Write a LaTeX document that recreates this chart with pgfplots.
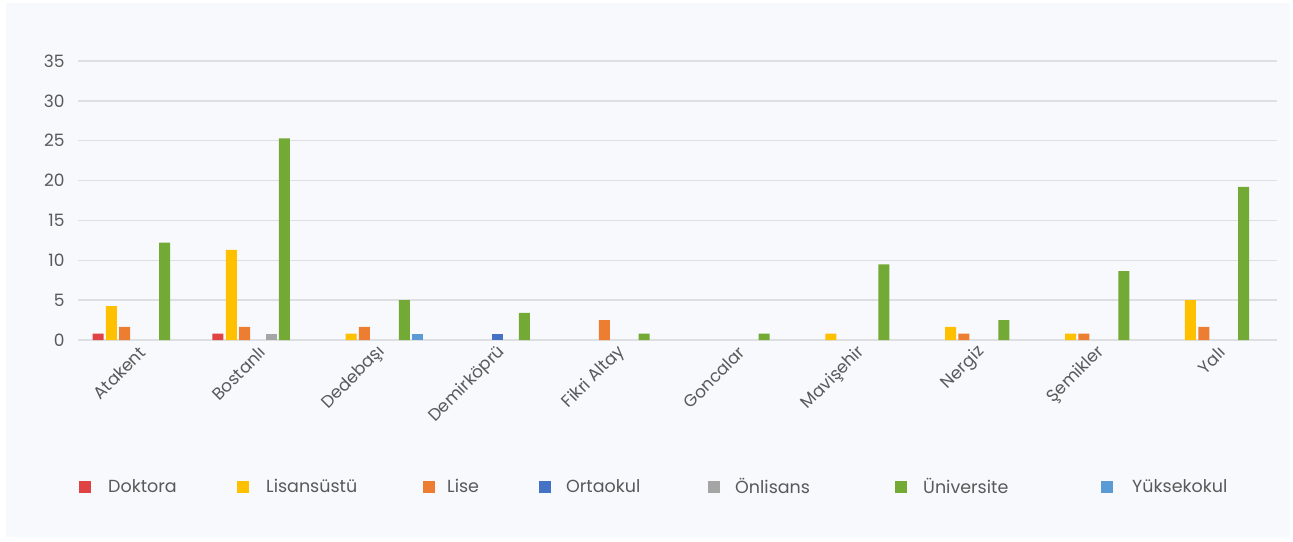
\documentclass[border=0pt]{standalone}
\usepackage{pgfplots}
\pgfplotsset{compat=1.18}
\usepackage{fontspec}
\setmainfont{Poppins}
\definecolor{bgc}{HTML}{F8F9FD}
\definecolor{gridc}{HTML}{DEDFE2}
\definecolor{txt}{HTML}{595959}
\definecolor{cDok}{HTML}{E04343}
\definecolor{cLis}{HTML}{FFC000}
\definecolor{cLise}{HTML}{ED7D31}
\definecolor{cOrt}{HTML}{4472C4}
\definecolor{cOnl}{HTML}{A5A5A5}
\definecolor{cUni}{HTML}{73A935}
\definecolor{cYuk}{HTML}{5B9BD5}
\newcommand{\legtxt}[3]{\makebox[#1pt][l]{\hspace{#2pt}#3}}
\begin{document}
\begin{tikzpicture}[x=1pt,y=1pt]
\path[use as bounding box, fill=white] (0,0) rectangle (1293,541);
\fill[bgc] (6,4) rectangle (1290,538);
\begin{axis}[
  at={(78pt,201pt)}, anchor=south west,
  scale only axis, width=1199pt, height=279pt,
  ybar=2.3pt, bar width=11pt,
  xmin=-0.5, xmax=9.5, ymin=0, ymax=35,
  ytick={0,5,...,35},
  xtick={0,...,9},
  xticklabels={Atakent,Bostanlı,Dedebaşı,Demirköprü,Fikri Altay,Goncalar,Mavişehir,Nergiz,Şemikler,Yalı},
  xticklabel style={rotate=45, anchor=east, font=\fontsize{17}{20}\selectfont, text=txt, yshift=-10pt, xshift=0pt},
  yticklabel style={font=\fontsize{17}{20}\selectfont, text=txt, xshift=-10pt},
  /pgf/number format/assume math mode=true,
  axis line style={draw=none},
  major tick length=0pt,
  ymajorgrids, grid style={gridc, line width=1.4pt},
  legend columns=7,
  legend style={draw=none, fill=none, at={(axis description cs:0,0)}, anchor=west, yshift=-147pt, xshift=-2pt,
    font=\fontsize{17.5}{20}\selectfont, text=txt,
    /tikz/every even column/.append style={column sep=0pt}},
  legend image code/.code={\fill[#1, draw=none] (0pt,-6pt) rectangle (12pt,6pt);},
  every axis plot/.append style={draw=none},
]
\addplot[fill=cDok] coordinates {(0,0.8) (1,0.8)};
\addlegendentry{\legtxt{142}{15}{Doktora}}
\addplot[fill=cLis] coordinates {(0,4.25) (1,11.3) (2,0.8) (6,0.8) (7,1.65) (8,0.8) (9,5.0)};
\addlegendentry{\legtxt{170}{15}{Lisansüstü}}
\addplot[fill=cLise] coordinates {(0,1.65) (1,1.65) (2,1.65) (4,2.5) (7,0.8) (8,0.8) (9,1.65)};
\addlegendentry{\legtxt{100}{10}{Lise}}
\addplot[fill=cOrt] coordinates {(3,0.8)};
\addlegendentry{\legtxt{153}{13}{Ortaokul}}
\addplot[fill=cOnl] coordinates {(1,0.8)};
\addlegendentry{\legtxt{171}{13}{Önlisans}}
\addplot[fill=cUni] coordinates {(0,12.2) (1,25.3) (2,5.0) (3,3.4) (4,0.8) (5,0.8) (6,9.5) (7,2.5) (8,8.65) (9,19.2)};
\addlegendentry{\legtxt{190}{14}{Üniversite}}
\addplot[fill=cYuk] coordinates {(2,0.8)};
\addlegendentry{\legtxt{140}{17}{Yüksekokul}}
\end{axis}
\end{tikzpicture}
\end{document}
